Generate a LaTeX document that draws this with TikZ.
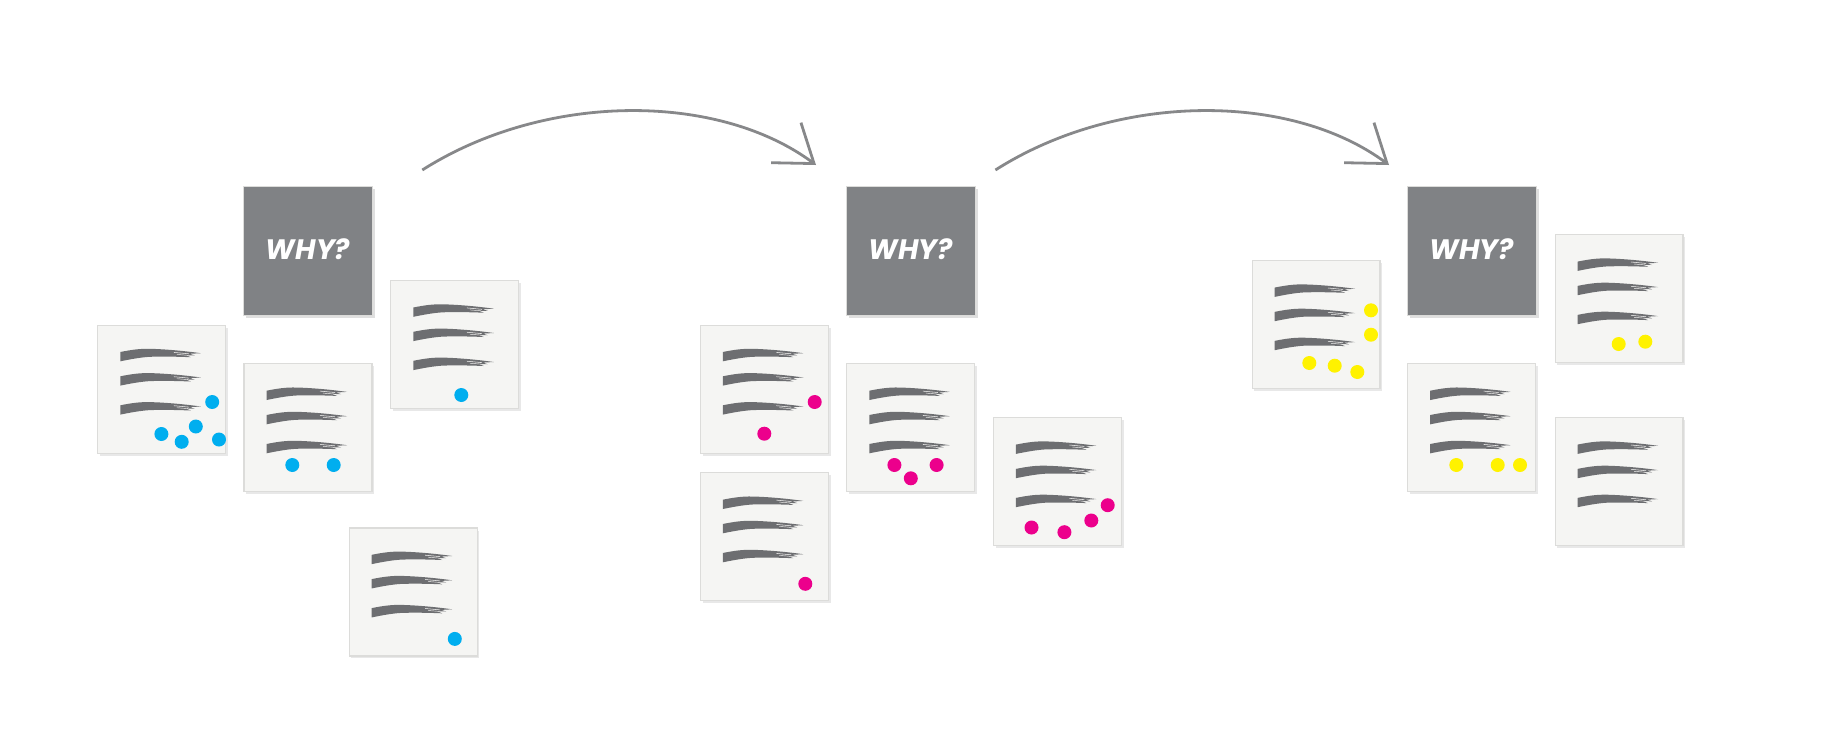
\documentclass[tikz,border=0pt]{standalone}
\usepackage{fontspec}
\newfontfamily\whyfont{Poppins}
\usetikzlibrary{calc,shadows,arrows.meta}
\definecolor{whygray}{HTML}{808285}
\definecolor{linkgray}{HTML}{87888A}
\definecolor{brushgray}{HTML}{6D6E71}
\definecolor{notefill}{HTML}{F5F5F3}
\definecolor{noteedge}{HTML}{DCDCDA}
\definecolor{dotblue}{HTML}{00AEEF}
\definecolor{dotpink}{HTML}{EC008C}
\definecolor{dotyellow}{HTML}{FFF200}
\newcommand{\brushmarks}[1]{
  \foreach \dy in {0,24.3,53.3} {
    \begin{scope}[shift={($(#1)+(0,\dy)$)}]
      \fill[brushgray] (-41.5,-37.2) .. controls (-30,-39.5) and (-22,-40.6) .. (-12,-40.4) .. controls (5,-40) and (25,-38) .. (39,-36)
        -- (28,-35.4) -- (33,-33.8) -- (24,-34) -- (29,-32) .. controls (15,-32.6) and (0,-32.8) .. (-12,-32.4) .. controls (-22,-31.8) and (-32,-29.8) .. (-41.5,-27.9) -- cycle;
      \draw[notefill,line width=0.3pt] (12,-36.8) -- (27,-35.4);
      \draw[notefill,line width=0.25pt] (15,-34.8) -- (26,-33.9);
    \end{scope}
  }
}
\begin{document}
\begin{tikzpicture}[x=0.02cm,y=-0.02cm,
    every node/.style={inner sep=0,outer sep=0},
    note/.style={rectangle,fill=notefill,draw=noteedge,line width=0.6pt,minimum size=2.56cm,drop shadow={shadow xshift=0.045cm,shadow yshift=-0.05cm,opacity=0.18}},
    whybox/.style={rectangle,fill=whygray,draw=noteedge,line width=0.3pt,minimum size=2.58cm,text=white,font=\whyfont\fontsize{16}{16}\selectfont\bfseries\itshape,drop shadow={shadow xshift=0.05cm,shadow yshift=-0.05cm,opacity=0.25}},
    blue dot/.style={circle,fill=dotblue,minimum size=0.28cm},
    pink dot/.style={circle,fill=dotpink,minimum size=0.28cm},
    yellow dot/.style={circle,fill=dotyellow,minimum size=0.28cm},
    link/.style={draw=linkgray,line width=0.056cm,-{Straight Barb[length=0.7cm,width=1.0cm]}}]
  \useasboundingbox (0,0) rectangle (1839,751);

  % first round
  \node[whybox] (whyA) at (308,251) {\raisebox{0.08cm}{WHY?}};
  \node[note] (blueA) at (161.8,389.2) {};
  \node[note] (blueB) at (308,427.9) {};
  \node[note] (blueC) at (454.8,344.7) {};
  \node[note] (blueD) at (413.2,592) {};

  % second round
  \node[whybox] (whyB) at (910.8,251) {\raisebox{0.08cm}{WHY?}};
  \node[note] (pinkA) at (764.3,389.2) {};
  \node[note] (pinkB) at (910.8,427.9) {};
  \node[note] (pinkC) at (1057.4,481.8) {};
  \node[note] (pinkD) at (764.3,536.9) {};

  % third round
  \node[whybox] (whyC) at (1471.7,251) {\raisebox{0.08cm}{WHY?}};
  \node[note] (yellowA) at (1316,324.8) {};
  \node[note] (yellowB) at (1471.7,427.9) {};
  \node[note] (yellowC) at (1619,298.8) {};
  \node[note] (yellowD) at (1619,481.8) {};

  \foreach \n in {blueA,blueB,blueC,blueD,pinkA,pinkB,pinkC,pinkD,yellowA,yellowB,yellowC,yellowD}
    \brushmarks{\n};

  \foreach \x/\y [count=\i] in {212.2/402,195.8/426.5,219/439.5,181.7/441.8,161.4/434,292.3/465,333.7/465,461.3/395,454.8/638.9}
    \node[blue dot] (bdot\i) at (\x,\y) {};
  \foreach \x/\y [count=\i] in {814.7/402,764.3/433.7,894.4/465,936.6/465,910.8/478.3,1107.7/505.2,1091.3/520.5,1064.4/532.2,1031.5/527.5,805.3/583.8}
    \node[pink dot] (pdot\i) at (\x,\y) {};
  \foreach \x/\y [count=\i] in {1371/310.3,1371/334.7,1309.3/363,1334.7/365.7,1357.3/372,1456.3/465,1497.7/465,1520/465,1618.7/344,1645.3/341.7}
    \node[yellow dot] (ydot\i) at (\x,\y) {};

  \coordinate (startA) at (422.3,170);
  \coordinate (endA) at (816,165);
  \coordinate (startB) at (995.4,170);
  \coordinate (endB) at (1389,165);
  \draw[link] (startA) .. controls (545,92) and (718,92) .. (endA);
  \draw[link] (startB) .. controls (1118,92) and (1291,92) .. (endB);
\end{tikzpicture}
\end{document}
